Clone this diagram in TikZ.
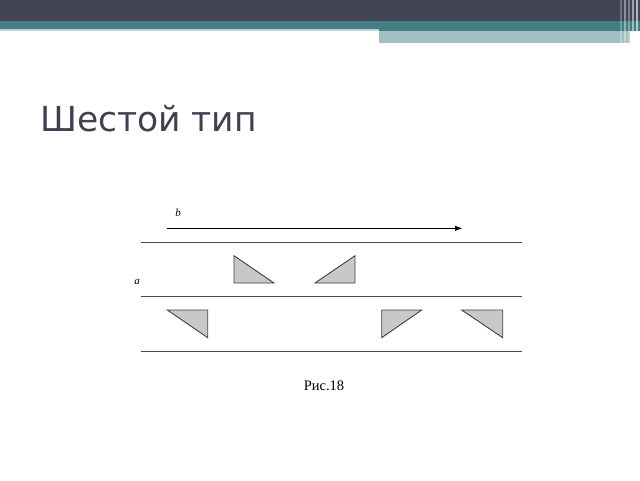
\documentclass[tikz,border=0pt]{standalone}
\usepackage{fontspec}
\setmainfont{Liberation Serif}
\newfontfamily\titlefont{DejaVu Sans}
\usetikzlibrary{arrows.meta}
\definecolor{barDark}{HTML}{424456}
\definecolor{barTeal}{HTML}{427E83}
\definecolor{barLight}{HTML}{A2BFC2}
\definecolor{titleGray}{HTML}{3F4050}
\definecolor{triFill}{HTML}{C8C8C8}

\begin{document}
\begin{tikzpicture}[
  x=1pt, y=-1pt,
  road/.style={draw=black!70, line width=1.4pt},
  tri/.style={draw=black!75, fill=triFill, line width=0.9pt, line join=miter},
  arr/.style={-{Latex[length=8pt,width=5.5pt]}, line width=1.5pt},
  lbl/.style={font=\fontsize{11}{13}\selectfont\itshape, inner sep=0pt},
  every node/.style={inner sep=0pt}
]
\useasboundingbox (0,0) rectangle (640,480);

% Top bar
\fill[barDark] (0,0) rectangle (640,21);
\fill[barTeal] (0,21) rectangle (640,31);
\fill[barLight!70] (0,28.5) rectangle (379,31);
\fill[barLight] (379,31) rectangle (630,43);
\foreach \xs/\op in {620/0.25,624/0.4,628/0.3,632/0.5,636/0.6}
  \fill[white, opacity=\op] (\xs,0) rectangle ++(2,43);

% Title
\node[anchor=base west, text=titleGray, font=\titlefont\fontsize{34.5}{41}\selectfont] (title) at (40,131) {Шестой тип};

% Direction b
\coordinate (bstart) at (166.7,228.3);
\coordinate (bend) at (463,228.3);
\draw[arr] (bstart) -- (bend);
\node[lbl] (blabel) at (178,213) {b};

% Road edges
\draw[road] (140.7,242.3) -- (521.7,242.3);
\draw[road] (140.7,296.7) -- (521.7,296.7);
\draw[road] (140.7,351.7) -- (521.7,351.7);
\node[lbl] (alabel) at (137,282) {a};

% Upper row of triangles
\draw[tri] (234,255.7) -- (234,283) -- (274,283) -- cycle;
\draw[tri] (315,283) -- (355,255.7) -- (355,283) -- cycle;

% Lower row of triangles
\draw[tri] (167.3,310) -- (207.7,310) -- (207.7,337.7) -- cycle;
\draw[tri] (381.7,310) -- (421.7,310) -- (381.7,337.7) -- cycle;
\draw[tri] (461.7,310) -- (502.7,310) -- (502.7,337.7) -- cycle;

% Caption
\node[anchor=base, font=\fontsize{14.5}{17}\selectfont] (caption) at (324,390.7) {Рис.18};

\end{tikzpicture}
\end{document}
